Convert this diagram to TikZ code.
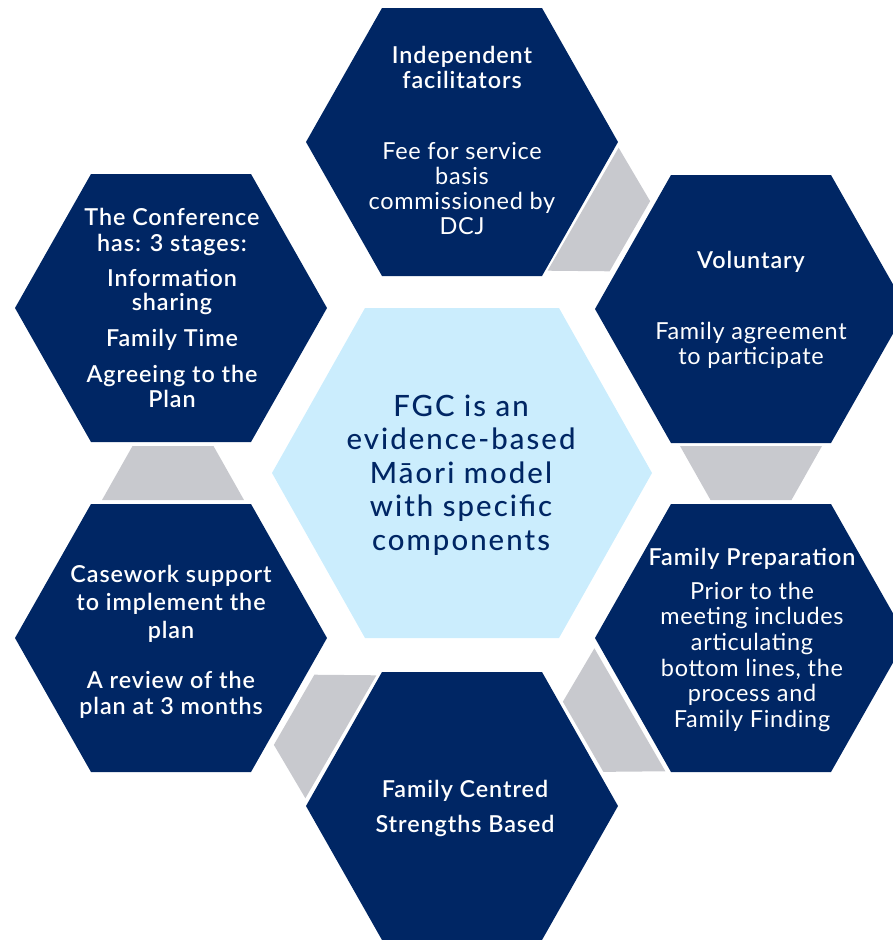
\documentclass[tikz,border=0pt]{standalone}
\usepackage{fontspec}
\newfontfamily\hfont{Lato Semibold}[LetterSpace=4]
\newfontfamily\bfont{Lato}[LetterSpace=3]
\newfontfamily\cfont{Lato Medium}[LetterSpace=7]
\definecolor{navy}{HTML}{002664}
\definecolor{lblue}{HTML}{CBEDFD}
\definecolor{grayc}{HTML}{C8C9CE}
\tikzset{
  hd/.style={font=\hfont\fontsize{17.5}{21}\selectfont, text=white, anchor=base, inner sep=0pt},
  bd/.style={font=\bfont\fontsize{17.6}{21}\selectfont, text=white, anchor=base, inner sep=0pt},
  ct/.style={font=\cfont\fontsize{22}{26}\selectfont, text=navy, anchor=base, inner sep=0pt},
  connpiece/.style={fill=grayc},
  hexnavy/.style={fill=navy},
  hexcentre/.style={fill=lblue}
}
\begin{document}
\begin{tikzpicture}[x=0.75pt,y=-0.75pt]
\useasboundingbox (0,0) rectangle (893,940);
\clip (0,0) rectangle (893,940);
% gray connector pieces (none between the top and upper-left hexagons)
\begin{scope}[shift={(462,473)}]
  \foreach \a in {0,60,180,240,300}
    \path[connpiece, rotate=\a] (218,-27) -- (360,-27) -- (329.5,27) -- (248.5,27) -- cycle;
\end{scope}
% outer hexagons
\foreach \cx/\cy in {462/142, 751/309, 751/638, 462/806, 171/638, 171/308}
  \path[hexnavy] (\cx+156,\cy) -- (\cx+80,\cy+134) -- (\cx-80,\cy+134) -- (\cx-156,\cy)
      -- (\cx-80,\cy-134) -- (\cx+80,\cy-134) -- cycle;
% centre hexagon
\path[hexcentre] (462+190,473) -- (462+97,473+165) -- (462-97,473+165) -- (462-190,473)
      -- (462-97,473-165) -- (462+97,473-165) -- cycle;

% top
\node[hd] (a1) at (462,63) {Independent};
\node[hd] (a2) at (462,88) {facilitators};
\node[bd] (a3) at (462,159) {Fee for service};
\node[bd] (a4) at (462,184) {basis};
\node[bd] (a5) at (462,209) {commissioned by};
\node[bd] (a6) at (462,234) {DCJ};
% voluntary
\node[hd] (b1) at (751,268) {Voluntary};
\node[bd] (b2) at (751,339) {Family agreement};
\node[bd] (b3) at (751,364) {to participate};
% family preparation
\node[hd] (c1) at (752,565) {Family Preparation};
\node[bd] (c2) at (752,599) {Prior to the};
\node[bd] (c3) at (752,624) {meeting includes};
\node[bd] (c4) at (752,650) {articulating};
\node[bd] (c5) at (752,676) {bottom lines, the};
\node[bd] (c6) at (752,701) {process and};
\node[bd] (c7) at (752,727) {Family Finding};
% bottom
\node[hd] (d1) at (465,797) {Family Centred};
\node[hd] (d2) at (465,832) {Strengths Based};
% casework
\node[hd] (e1) at (171,582) {Casework support};
\node[hd] (e2) at (171,610) {to implement the};
\node[hd] (e3) at (171,638) {plan};
\node[hd] (e4) at (171,688) {A review of the};
\node[hd] (e5) at (171,714) {plan at 3 months};
% conference
\node[hd] (f1) at (172,225) {The Conference};
\node[hd] (f2) at (172,251) {has: 3 stages:};
\node[hd] (f3) at (172,286) {Information};
\node[hd] (f4) at (172,310) {sharing};
\node[hd] (f5) at (172,346) {Family Time};
\node[hd] (f6) at (172,382) {Agreeing to the};
\node[hd] (f7) at (172,407) {Plan};
% centre
\node[ct] (g1) at (461,416) {FGC is an};
\node[ct] (g2) at (461,449.5) {evidence-based};
\node[ct] (g3) at (461,483) {Māori model};
\node[ct] (g4) at (461,516.5) {with specific};
\node[ct] (g5) at (461,550) {components};
\end{tikzpicture}
\end{document}
